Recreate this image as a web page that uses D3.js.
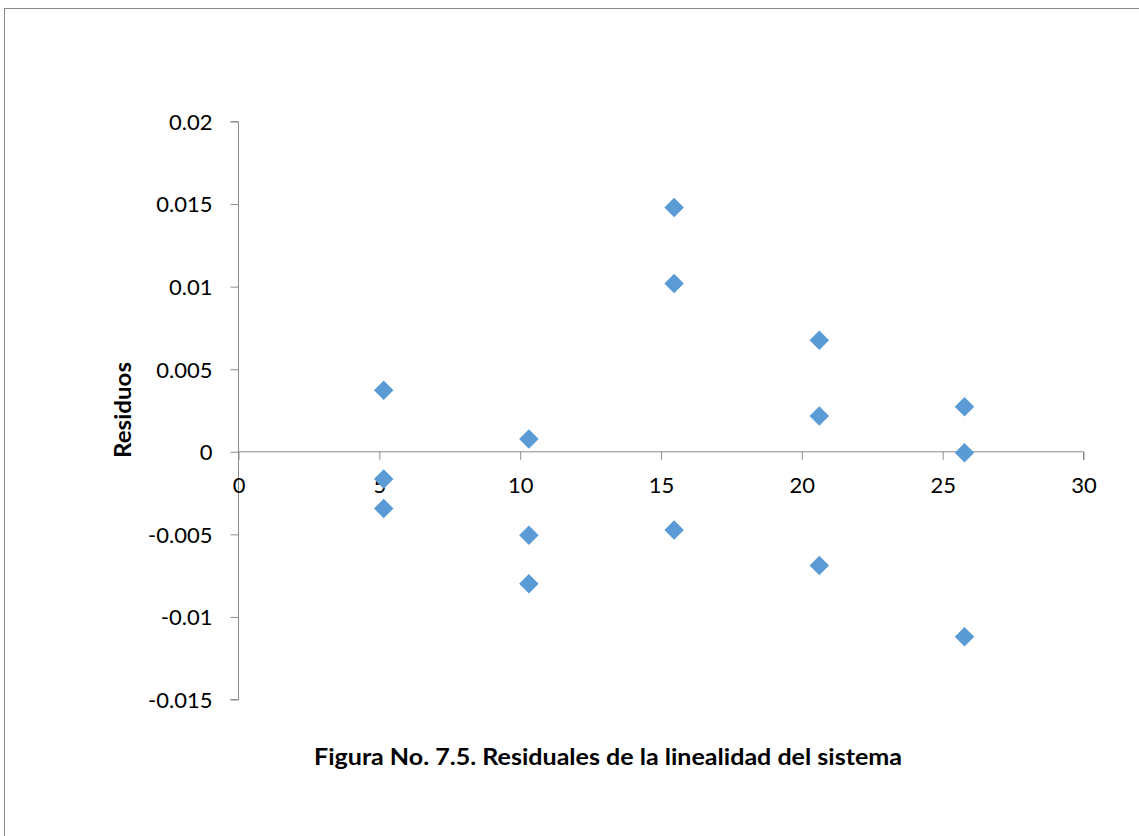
<!DOCTYPE html>
<html>
<head>
<meta charset="utf-8">
<script src="https://cdn.jsdelivr.net/npm/d3@7"></script>
<style>
  html, body { margin: 0; padding: 0; background: #fff; }
  svg { display: block; }
  text { font-family: Lato, "Open Sans", "Liberation Sans", sans-serif; fill: #000; }
</style>
</head>
<body>
<svg id="chart" width="1139" height="836"></svg>
<script>
// Residuals of the system linearity, grouped by concentration level
const concentrations = [5.155, 5.155, 5.155, 10.31, 10.31, 10.31, 15.465, 15.465, 15.465, 20.62, 20.62, 20.62, 25.775, 25.775, 25.775];
const residuals = [0.00372, -0.00165, -0.00343, 0.00077, -0.00506, -0.00799, 0.01479, 0.01019, -0.00474, 0.00676, 0.00216, -0.00688, 0.00272, -0.00006, -0.0112];
const xTicks = [0, 5, 10, 15, 20, 25, 30];
const yTicks = [0.02, 0.015, 0.01, 0.005, 0, -0.005, -0.01, -0.015];
const yLabel = "Residuos";
const caption = "Figura No. 7.5. Residuales de la linealidad del sistema";

const svg = d3.select("#chart");

// outer chart frame
svg.append("rect")
  .attr("x", 4.5).attr("y", 8.5)
  .attr("width", 1200).attr("height", 900)
  .attr("fill", "none").attr("stroke", "#898989").attr("stroke-width", 1);

const x = d3.scaleLinear().domain([0, 30]).range([238.5, 1083.5]);
const y = d3.scaleLinear().domain([-0.015, 0.02]).range([699.5, 121.5]);

const axisColor = "#8c8c8c";
const fmt = d => d === 0 ? "0" : String(d);

// vertical axis at x = 0
const gy = svg.append("g").attr("transform", `translate(${x(0)},0)`)
  .call(d3.axisLeft(y).tickValues(yTicks).tickFormat(fmt).tickSize(8).tickPadding(18));
gy.select(".domain").attr("stroke", axisColor).attr("d", `M-8,${y(0.02)}H0V${y(-0.015)}H-8`);
gy.selectAll(".tick line").attr("stroke", axisColor);
gy.selectAll(".tick text").attr("font-size", 22).attr("dy", "0.36em");

// horizontal axis crossing at y = 0
const gx = svg.append("g").attr("transform", `translate(0,${y(0)})`)
  .call(d3.axisBottom(x).tickValues(xTicks).tickFormat(fmt).tickSize(8).tickPadding(18));
gx.select(".domain").attr("stroke", axisColor).attr("d", `M${x(0)},0H${x(30)}V8`);
gx.selectAll(".tick line").attr("stroke", axisColor);
gx.selectAll(".tick text").attr("font-size", 22);

// diamond markers
const diamond = d3.symbol().type(d3.symbolSquare).size(190);
svg.append("g").selectAll("path")
  .data(concentrations.map((c, i) => [c, residuals[i]]))
  .join("path")
  .attr("d", diamond)
  .attr("transform", d => `translate(${x(d[0])},${y(d[1])}) rotate(45)`)
  .attr("fill", "#5b9bd5");

// axis title
svg.append("text")
  .attr("transform", `translate(131,410) rotate(-90)`)
  .attr("text-anchor", "middle")
  .attr("font-size", 22).attr("font-weight", "bold")
  .attr("textLength", 96).attr("lengthAdjust", "spacingAndGlyphs")
  .text(yLabel);

// caption below the plot
svg.append("text")
  .attr("x", 608).attr("y", 765)
  .attr("text-anchor", "middle")
  .attr("font-size", 22).attr("font-weight", "bold")
  .attr("textLength", 588).attr("lengthAdjust", "spacingAndGlyphs")
  .text(caption);
</script>
</body>
</html>
